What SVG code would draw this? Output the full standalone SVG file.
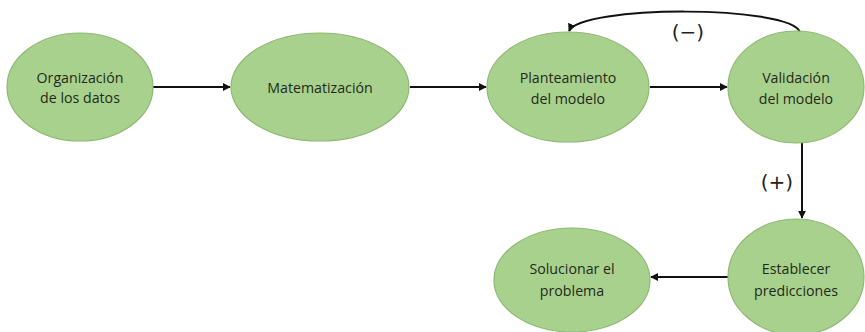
<svg xmlns="http://www.w3.org/2000/svg" width="865" height="332" viewBox="0 0 865 332">
<defs>
<style>
.node{fill:#a9d18e;stroke:#8fb873;stroke-width:1.2}
.lbl{font-family:"Open Sans","Liberation Sans",sans-serif;font-size:14.2px;fill:#1f2a18;text-anchor:middle;dominant-baseline:central}
.sign{font-family:"DejaVu Sans","Liberation Sans",sans-serif;font-size:20px;fill:#222;text-anchor:middle;dominant-baseline:central}
.edge{fill:none;stroke:#111;stroke-width:2}
</style>
<marker id="ah" viewBox="0 0 10 10" refX="9" refY="5" markerWidth="4" markerHeight="4" orient="auto" markerUnits="strokeWidth">
<path d="M0,0 L10,5 L0,10 z" fill="#111"/>
</marker>
</defs>
<rect width="865" height="332" fill="#ffffff"/>
<g id="connectors">
<line class="edge" x1="153" y1="87" x2="230" y2="87" marker-end="url(#ah)"/>
<line class="edge" x1="410" y1="87" x2="486" y2="87" marker-end="url(#ah)"/>
<line class="edge" x1="650" y1="87" x2="727" y2="87" marker-end="url(#ah)"/>
<path class="edge" d="M800,32 C790,5 580,5 569,31" marker-end="url(#ah)"/>
<line class="edge" x1="802" y1="142" x2="802" y2="218" marker-end="url(#ah)"/>
<line class="edge" x1="728" y1="277" x2="651" y2="277" marker-end="url(#ah)"/>
<text class="sign" x="688" y="32">(−)</text>
<text class="sign" x="777" y="182">(+)</text>
</g>
<g id="n1"><ellipse class="node" cx="80" cy="87" rx="73" ry="54"/><text class="lbl" x="80" y="77">Organización</text><text class="lbl" x="80" y="97">de los datos</text></g>
<g id="n2"><ellipse class="node" cx="320" cy="87" rx="89" ry="54"/><text class="lbl" x="320" y="87">Matematización</text></g>
<g id="n3"><ellipse class="node" cx="568" cy="87" rx="81" ry="55"/><text class="lbl" x="568" y="77">Planteamiento</text><text class="lbl" x="568" y="98">del modelo</text></g>
<g id="n4"><ellipse class="node" cx="796" cy="87" rx="68" ry="56"/><text class="lbl" x="796" y="77">Validación</text><text class="lbl" x="796" y="98">del modelo</text></g>
<g id="n5"><ellipse class="node" cx="796" cy="277" rx="68" ry="58"/><text class="lbl" x="796" y="268">Establecer</text><text class="lbl" x="796" y="290">predicciones</text></g>
<g id="n6"><ellipse class="node" cx="572" cy="280" rx="78" ry="52"/><text class="lbl" x="572" y="268">Solucionar el</text><text class="lbl" x="572" y="290">problema</text></g>
</svg>
